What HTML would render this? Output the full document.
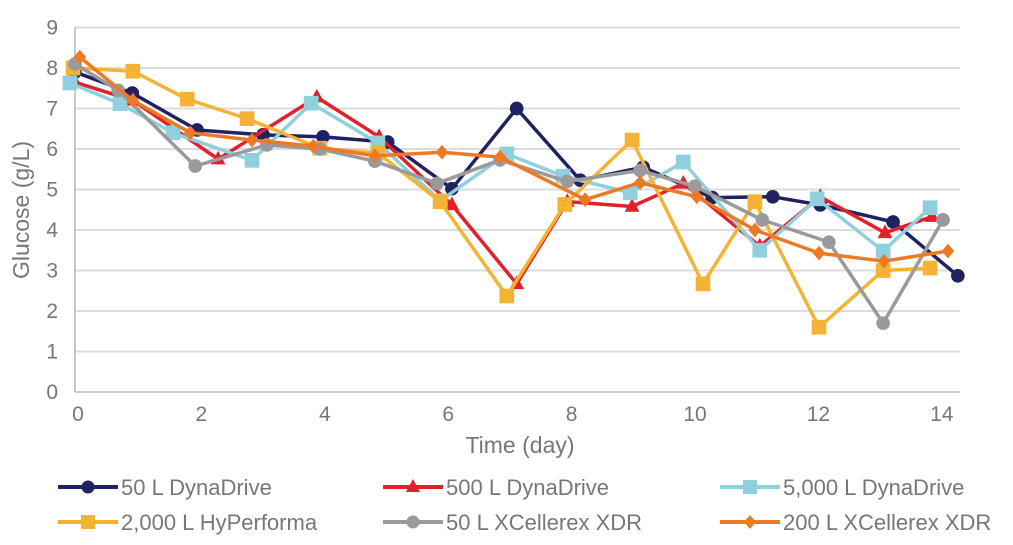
<!DOCTYPE html>
<html><head><meta charset="utf-8"><style>
body{margin:0;background:#fff;}
svg{display:block;font-family:"Liberation Sans",sans-serif;}
</style></head><body>
<svg id="chart" width="1013" height="545" viewBox="0 0 1013 545" xmlns="http://www.w3.org/2000/svg">
<g id="grid"></g>
<g id="yticks"></g>
<g id="xticks"></g>
<text x="520" y="453" font-size="23" fill="#777" text-anchor="middle">Time (day)</text>
<text x="0" y="0" font-size="23" fill="#777" text-anchor="middle" transform="translate(29,210) rotate(-90)">Glucose (g/L)</text>
<g id="series"></g>
<g id="legend"></g>
</svg>
<script>
const yTicks=[0,1,2,3,4,5,6,7,8,9];
const xTicks=[0,2,4,6,8,10,12,14];
const seriesNames=["50 L DynaDrive","500 L DynaDrive","5,000 L DynaDrive","2,000 L HyPerforma","50 L XCellerex XDR","200 L XCellerex XDR"];
const navyX=[-0.05,0.88,1.93,3.0,3.97,5.02,6.06,7.11,8.14,9.16,10.28,11.26,12.03,13.21,14.26];
const navyY=[7.9,7.38,6.47,6.35,6.3,6.17,5.02,7.0,5.23,5.55,4.8,4.82,4.62,4.2,2.87];
const redX=[-0.05,0.89,2.27,3.87,4.88,6.06,7.11,7.93,8.98,9.81,11.05,12.03,13.08,13.84];
const redY=[7.65,7.2,5.75,7.28,6.3,4.62,2.67,4.7,4.58,5.15,3.6,4.82,3.93,4.33];
const blueX=[-0.13,0.68,1.54,2.82,3.78,4.86,5.87,6.95,7.86,8.95,9.81,11.05,11.98,13.05,13.81];
const blueY=[7.63,7.12,6.4,5.72,7.13,6.15,4.72,5.88,5.33,4.92,5.68,3.5,4.77,3.48,4.55];
const yellowX=[-0.08,0.89,1.77,2.74,3.92,4.86,5.87,6.95,7.89,8.98,10.13,10.97,12.01,13.05,13.81];
const yellowY=[8.0,7.92,7.23,6.75,6.02,5.9,4.7,2.37,4.63,6.22,2.67,4.7,1.6,3.0,3.06];
const grayX=[-0.05,0.65,1.9,3.06,3.92,4.81,5.82,6.84,7.93,9.11,10.0,11.09,12.17,13.05,14.02];
const grayY=[8.1,7.45,5.58,6.1,6.0,5.7,5.15,5.73,5.2,5.47,5.08,4.25,3.7,1.7,4.25];
const orangeX=[0.03,0.89,1.82,2.82,3.81,4.81,5.9,6.84,8.22,9.11,10.03,10.97,12.01,13.06,14.1];
const orangeY=[8.27,7.2,6.4,6.22,6.07,5.83,5.92,5.8,4.75,5.17,4.82,4.0,3.43,3.23,3.48];

const NS="http://www.w3.org/2000/svg";
const X0=78, XS=61.7, Y0=392, YS=40.5, PL=75, PR=960;
const xs=d=>X0+d*XS, ys=v=>Y0-v*YS;
function mk(tag,parent,attrs){const e=document.createElementNS(NS,tag);for(const k in attrs)e.setAttribute(k,attrs[k]);parent.appendChild(e);return e;}
const grid=document.getElementById('grid'), yt=document.getElementById('yticks'), xt=document.getElementById('xticks');
yTicks.forEach(v=>{
  const l=mk('line',grid,{x1:PL,x2:PR,y1:ys(v),y2:ys(v),stroke:v===0?'#c8c8c8':'#dcdcdc','stroke-width':2});
  
  
  const t=mk('text',yt,{x:58,y:ys(v)+7,'font-size':21,fill:'#777','text-anchor':'end'});
  t.textContent=v;
  
  
});
const ax=mk('line',grid,{x1:PL,x2:PL,y1:ys(9),y2:ys(0),stroke:'#c8c8c8','stroke-width':2});


xTicks.forEach(v=>{
  const t=mk('text',xt,{x:xs(v),y:421,'font-size':21,fill:'#777','text-anchor':'middle'});
  t.textContent=v;
  
  
});
const colors=['#1f2160','#e3202b','#8fd0dc','#f4b335','#9a9a9c','#ec7a24'];
const shapes=['circle','triangle','square','square','circle','diamond'];
const data=[[navyX,navyY],[redX,redY],[blueX,blueY],[yellowX,yellowY],[grayX,grayY],[orangeX,orangeY]];
function marker(g,shape,cx,cy,c,s){
  let e;
  if(shape==='circle')e=mk('circle',g,{cx:cx,cy:cy,r:6.5*s,fill:c});
  else if(shape==='square')e=mk('rect',g,{x:cx-7*s,y:cy-7*s,width:14*s,height:14*s,fill:c});
  else if(shape==='triangle')e=mk('polygon',g,{points:`${cx},${cy-8*s} ${cx+7*s},${cy+5*s} ${cx-7*s},${cy+5*s}`,fill:c});
  else e=mk('polygon',g,{points:`${cx},${cy-7*s} ${cx+6*s},${cy} ${cx},${cy+7*s} ${cx-6*s},${cy}`,fill:c});
  return e;
}
const sg=document.getElementById('series');
data.forEach((d,i)=>{
  const g=mk('g',sg,{});
  
  
  const pts=d[0].map((x,j)=>xs(x)+','+ys(d[1][j])).join(' ');
  const pl=mk('polyline',g,{points:pts,fill:'none',stroke:colors[i],'stroke-width':3.5,'stroke-linejoin':'round'});
  
  
  d[0].forEach((x,j)=>{
    const m=marker(g,shapes[i],xs(x),ys(d[1][j]),colors[i],1.05);
    
    
  });
});
const lg=document.getElementById('legend');
const lpos=[[58,487],[383,487],[720,487],[58,522],[383,522],[720,522]];
seriesNames.forEach((n,i)=>{
  const g=mk('g',lg,{});
  
  
  const [x,y]=lpos[i];
  mk('line',g,{x1:x,x2:x+60,y1:y,y2:y,stroke:colors[i],'stroke-width':4});
  marker(g,shapes[i],x+30,y,colors[i],1);
  const t=mk('text',g,{x:x+63,y:y+8,'font-size':22,fill:'#777'});
  t.textContent=n;
});
</script>
</body></html>
